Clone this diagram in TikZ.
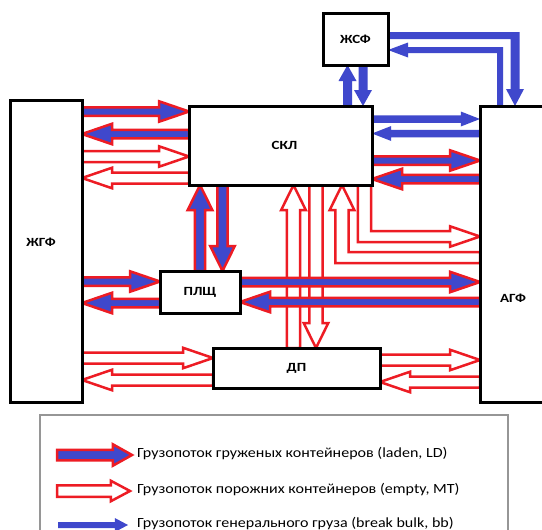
\documentclass[tikz,border=0pt]{standalone}
\usepackage{fontspec}
\setmainfont{Carlito}
\usetikzlibrary{calc}
\definecolor{pred}{RGB}{237,28,36}
\definecolor{pblue}{RGB}{63,72,204}
\definecolor{lgray}{RGB}{150,150,150}
\pgfdeclarelayer{back}
\pgfdeclarelayer{arrows}
\pgfsetlayers{back,arrows,main}
\def\kx{1.2}
\newcommand{\boxlbl}[1]{\scalebox{1.2}[1]{#1}}
\newcommand{\legscale}[1]{\scalebox{1.145}[1]{#1}}
\tikzset{
  fat/.style n args={3}{to path={%
    let \p1=(\tikztostart), \p2=(\tikztotarget),
        \n1={veclen(\x2-\x1,\y2-\y1)},
        \n2={(\x2-\x1)/\n1}, \n3={(\y2-\y1)/\n1}
    in ({\x1-#1*\kx*\n3},{\y1+#1*\n2})
    -- ({\x2-#3*\kx*\n2-#1*\kx*\n3},{\y2-#3*\n3+#1*\n2})
    -- ({\x2-#3*\kx*\n2-#2*\kx*\n3},{\y2-#3*\n3+#2*\n2})
    -- (\x2,\y2)
    -- ({\x2-#3*\kx*\n2+#2*\kx*\n3},{\y2-#3*\n3-#2*\n2})
    -- ({\x2-#3*\kx*\n2+#1*\kx*\n3},{\y2-#3*\n3-#1*\n2})
    -- ({\x1+#1*\kx*\n3},{\y1-#1*\n2}) -- cycle}},
  ldarrow/.style={draw=pred, fill=pblue, line width=2.5pt},
  mtarrow/.style={draw=pred, fill=white, line width=2.5pt},
  bbarrow/.style={fill=pblue, draw=none},
  ld/.style={ldarrow, fat={4.25}{10.25}{25}},
  mt/.style={mtarrow, fat={5.5}{10.25}{25}},
  bb/.style={bbarrow, fat={3.75}{7.5}{16}},
  box/.style={rectangle, draw=black, line width=3pt, fill=white, inner sep=0pt, outer sep=0pt,
    font=\bfseries\fontsize{12.5}{14}\selectfont},
  lbl/.style={font=\bfseries\fontsize{12.5}{14}\selectfont, inner sep=0pt},
  legtxt/.style={font=\fontsize{14}{16}\selectfont, inner sep=0pt, anchor=base west},
}
\begin{document}
\begin{tikzpicture}[x=1pt,y=-1pt]
\begin{pgfonlayer}{back}
\fill[white] (0,0) rectangle (542,530);
\end{pgfonlayer}
\useasboundingbox (0,0) rectangle (542,530);

% boxes
\node[box, minimum width=65pt, minimum height=52pt] (zhsf) at (355.5,39) {\boxlbl{ЖСФ}};
\node[box, minimum width=183pt, minimum height=79pt] (skl) at (280.5,145.5) {\hspace*{8pt}\boxlbl{СКЛ}};
\node[box, minimum width=72pt, minimum height=302pt] (zhgf) at (46,251) {};
\node[box, minimum width=80pt, minimum height=42pt] (plsh) at (200,292) {\boxlbl{ПЛЩ}};
\node[box, minimum width=167pt, minimum height=40pt] (dp) at (296.5,368) {\boxlbl{ДП}};
\node[box, minimum width=68pt, minimum height=296pt] (agf) at (514,254) {};
\node[lbl] (zhgfl) at (41,242) {\boxlbl{ЖГФ}};
\node[lbl] (agfl) at (513,298) {\boxlbl{АГФ}};

\begin{pgfonlayer}{arrows}
% vertical empty-container arrows between SKL and DP
\path[mt] (dp.north -| 293.5,0) to (skl.south -| 293.5,0);
\path[mt] (skl.south -| 316,0) to (dp.north -| 316,0);
% L-shaped empty arrows SKL <-> AGF
\path[mtarrow] (agf.west |- 0,263) -- (335.4,263) -- (335.4,210) -- (329.7,210)
  -- (skl.south -| 342,0) -- (354.3,210) -- (348.6,210) -- (348.6,252)
  -- (agf.west |- 0,252) -- cycle;
\path[mtarrow] (skl.south -| 357.9,0) -- (357.9,242) -- (450,242) -- (450,246.75)
  -- (agf.west |- 0,236.5) -- (450,226.25) -- (450,231) -- (371.1,231)
  -- (skl.south -| 371.1,0) -- cycle;
% ZhGF <-> SKL
\path[ld] (zhgf.east |- 0,111.5) to (skl.west |- 0,111.5);
\path[ld] (skl.west |- 0,134) to (zhgf.east |- 0,134);
\path[mt] (zhgf.east |- 0,156.5) to (skl.west |- 0,156.5);
\path[mt] (skl.west |- 0,178) to (zhgf.east |- 0,178);
% ZhGF <-> PLSh
\path[ld] (zhgf.east |- 0,281.5) to (plsh.west |- 0,281.5);
\path[ld] (plsh.west |- 0,303) to (zhgf.east |- 0,303);
% ZhGF <-> DP
\path[mt] (zhgf.east |- 0,358) to (dp.west |- 0,358);
\path[mt] (dp.west |- 0,380) to (zhgf.east |- 0,380);
% SKL <-> PLSh
\path[ld] (plsh.north -| 200,0) to (skl.south -| 200,0);
\path[ld] (skl.south -| 222.5,0) to (plsh.north -| 222.5,0);
% PLSh <-> AGF
\path[ld] (plsh.east |- 0,282) to (agf.west |- 0,282);
\path[ld] (agf.west |- 0,302) to (plsh.east |- 0,302);
% SKL <-> AGF
\path[bb] (skl.east |- 0,119) to (agf.west |- 0,119);
\path[bb] (agf.west |- 0,133.5) to (skl.east |- 0,133.5);
\path[ld] (skl.east |- 0,160.5) to (agf.west |- 0,160.5);
\path[ld] (agf.west |- 0,179) to (skl.east |- 0,179);
% DP <-> AGF
\path[mt] (dp.east |- 0,360) to (agf.west |- 0,360);
\path[mt] (agf.west |- 0,382) to (dp.east |- 0,382);
% SKL <-> ZhSF
\path[bb] (skl.north -| 347.5,0) to (zhsf.south -| 347.5,0);
\path[bb] (zhsf.south -| 363,0) to (skl.north -| 363,0);
% ZhSF <-> AGF
\path[bbarrow] (zhsf.east |- 0,32) -- (519.5,32) -- (519.5,89) -- (524,89)
  -- (agf.north -| 515,0) -- (506,89) -- (510.5,89) -- (510.5,39)
  -- (zhsf.east |- 0,39) -- cycle;
\path[bbarrow] (agf.north -| 497,0) -- (497,53) -- (408,53) -- (408,57.5)
  -- (zhsf.east |- 0,50) -- (408,42.5) -- (408,47) -- (503,47)
  -- (agf.north -| 503,0) -- cycle;
\end{pgfonlayer}

% legend
\node[rectangle, draw=lgray, line width=1.5pt, fill=white, minimum width=468pt, minimum height=125pt, inner sep=0pt, outer sep=0pt] (leg) at (274,477.5) {};
\coordinate (l1a) at (57,455);
\coordinate (l1b) at (132,455);
\coordinate (l2a) at (57,491);
\coordinate (l2b) at (130,491);
\coordinate (l3a) at (58,525);
\coordinate (l3b) at (128,525);
\path[ldarrow, fat={5.25}{10.75}{16}] (l1a) to (l1b);
\path[mtarrow, fat={5.75}{10.25}{16}] (l2a) to (l2b);
\path[bbarrow, fat={3}{7}{11}] (l3a) to (l3b);
\node[legtxt] (t1) at (137,457) {\legscale{Грузопоток груженых контейнеров (laden, LD)}};
\node[legtxt] (t2) at (137,493) {\legscale{Грузопоток порожних контейнеров (empty, MT)}};
\node[legtxt] (t3) at (137,527) {\legscale{Грузопоток генерального груза (break bulk, bb)}};
\end{tikzpicture}
\end{document}
